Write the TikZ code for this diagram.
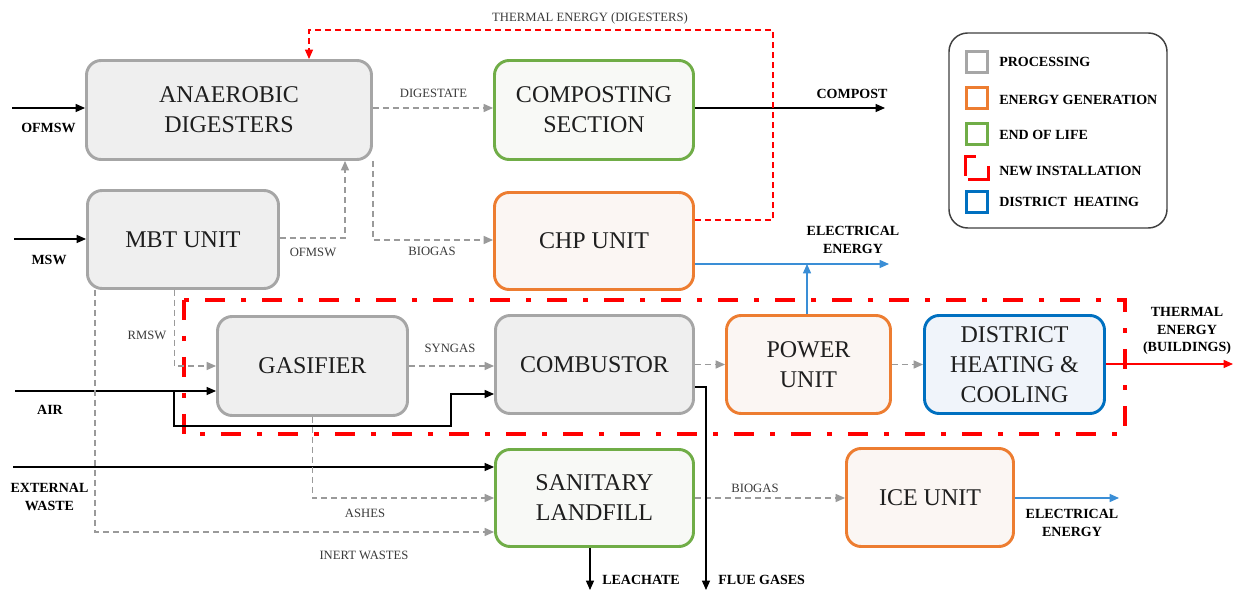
\documentclass[tikz,border=0pt]{standalone}
\usepackage{fontspec}
\setmainfont{Liberation Serif}
\usetikzlibrary{arrows.meta,calc}
\definecolor{gbord}{HTML}{A6A6A6}
\definecolor{gfill}{HTML}{EFEFEF}
\definecolor{obord}{HTML}{ED7D31}
\definecolor{ofill}{HTML}{FBF6F3}
\definecolor{lbord}{HTML}{70AD47}
\definecolor{lfill}{HTML}{F8F9F6}
\definecolor{bbord}{HTML}{0070C0}
\definecolor{bfill}{HTML}{F0F4FA}
\definecolor{elec}{HTML}{3A8ED6}
\definecolor{dgray}{HTML}{9A9A9A}
\definecolor{lbl}{HTML}{3A3A3A}
\definecolor{txt}{HTML}{1E1E1E}
\begin{document}
\begin{tikzpicture}[x=0.75pt,y=-0.75pt,
  box/.style={draw, rounded corners=11pt, line width=2.2pt, align=center,
    font=\fontsize{18}{22.5}\selectfont, text=txt, inner sep=0pt},
  proc/.style={box, draw=gbord, fill=gfill},
  egen/.style={box, draw=obord, fill=ofill},
  eol/.style={box, draw=lbord, fill=lfill},
  dhc/.style={box, draw=bbord, fill=bfill},
  tip/.style={-{Triangle[length=7pt,width=6pt]}},
  flow/.style={tip, draw=black, line width=0.9pt},
  dflow/.style={tip, draw=dgray, line width=1pt, dash pattern=on 4.5pt off 3pt},
  eflow/.style={tip, draw=elec, line width=1pt},
  rflow/.style={tip, draw=red, line width=1pt},
  lab/.style={font=\fontsize{9.5}{12}\selectfont, text=lbl, inner sep=0pt},
  blab/.style={font=\bfseries\fontsize{10.5}{13}\selectfont, text=black, align=center, inner sep=0pt},
  legsq/.style={draw, line width=2.2pt, fill=white, minimum width=15.5pt, minimum height=15.5pt, inner sep=0pt},
  leglab/.style={font=\bfseries\fontsize{10.5}{13}\selectfont, anchor=west, inner sep=0pt}
]
\useasboundingbox (0,0) rectangle (1236,591);
\fill[white] (0,0) rectangle (1236,591);

% new installation frame
\draw[red, line width=3pt, dash pattern=on 15pt off 12pt on 3.75pt off 12pt] (184,300) rectangle (1125,434);

% boxes
\node[proc, minimum width=213.75pt, minimum height=74.25pt] (ad) at (229,110) {ANAEROBIC\\DIGESTERS};
\node[proc, minimum width=143.25pt, minimum height=73.5pt] (mbt) at (183,239.5) {MBT UNIT};
\node[eol, minimum width=149.25pt, minimum height=74.25pt] (comp) at (594,110) {COMPOSTING\\SECTION};
\node[egen, minimum width=149.25pt, minimum height=72.75pt] (chp) at (594,241) {CHP UNIT};
\node[proc, minimum width=142.5pt, minimum height=74.25pt] (gas) at (312.5,366) {GASIFIER};
\node[proc, minimum width=148.5pt, minimum height=73.5pt] (comb) at (594.5,364.5) {COMBUSTOR};
\node[egen, minimum width=123pt, minimum height=73.5pt] (pow) at (808.5,364.5) {POWER\\UNIT};
\node[dhc, minimum width=135pt, minimum height=73.5pt] (dh) at (1014.5,364.5) {DISTRICT\\HEATING \&\\COOLING};
\node[eol, minimum width=148.5pt, minimum height=72.75pt] (lf) at (594.5,498) {SANITARY\\LANDFILL};
\node[egen, minimum width=125.25pt, minimum height=73.5pt] (ice) at (930,497.5) {ICE UNIT};

% free ends
\coordinate (ofin) at (12,108);
\coordinate (mswin) at (14,239);
\coordinate (airin) at (15,391);
\coordinate (airbr) at (174,391);
\coordinate (extin) at (13,467);
\coordinate (compout) at (885,108);
\coordinate (chpel) at (889,264);
\coordinate (thbout) at (1233,364);
\coordinate (iceel) at (1119,498);
\coordinate (leach) at (590,590);
\coordinate (flue) at (706,590);
\coordinate (thtop) at (773,30);

% inputs
\draw[flow] (ofin) -- (ofin -| ad.west);
\draw[flow] (mswin) -- (mswin -| mbt.west);
\draw[flow] (airin) -- ($(gas.west)+(0,25)$);
\draw[line width=0.9pt, tip] (airbr) -- (174,426) -- (451,426) -- (451,394) -- ($(comb.west)+(0,29.5)$);
\draw[flow] (extin) -- (extin -| lf.west);

% dashed process flows
\draw[dflow] ($(ad.east)+(0,-2)$) -- ($(comp.west)+(0,-2)$);
\draw[dflow] ($(mbt.east)+(0,-1.5)$) -| ($(ad.south)+(116,0)$);
\draw[dflow] ($(ad.south east)+(0,0)$) |- ($(chp.west)+(0,-1)$);
\draw[dflow] ($(mbt.south)+(-8.5,0)$) |- (gas.west);
\draw[dflow] ($(mbt.south west)+(9,0)$) |- ($(lf.west)+(0,34)$);
\draw[dflow] (gas.south) |- (lf.west);
\draw[dflow] (gas.east) -- ($(comb.west)+(0,1.5)$);
\draw[dflow] (comb.east) -- (pow.west);
\draw[dflow] (pow.east) -- (dh.west);
\draw[dflow] (lf.east) -- ($(ice.west)+(0,0.5)$);

% outputs
\draw[flow] ($(comp.east)+(0,-2)$) -- (compout);
\draw[eflow] ($(chp.east)+(0,23)$) -- (chpel);
\draw[eflow] (pow.north -| 807,0) -- (807,264);
\draw[rflow] ($(dh.east)+(0,-0.5)$) -- (thbout);
\draw[eflow] ($(ice.east)+(0,0.5)$) -- (iceel);
\draw[flow] ($(lf.south)+(-4.5,0)$) -- (leach);
\draw[flow] ($(comb.east)+(0,22.5)$) -| (flue);
\draw[red, line width=0.9pt, dash pattern=on 4.5pt off 3pt, -{Triangle[length=7pt,width=6pt]}]
  ($(chp.east)+(0,-21)$) -| (thtop) -| ($(ad.north)+(80,0)$);

% labels
\node[blab] (l1) at (48.5,128) {OFMSW};
\node[blab] (l2) at (49,260) {MSW};
\node[blab] (l3) at (50,410) {AIR};
\node[blab] (l4) at (49.5,497) {EXTERNAL\\WASTE};
\node[blab] (l5) at (852,94) {COMPOST};
\node[blab] (l6) at (853,240) {ELECTRICAL\\ENERGY};
\node[blab] (l7) at (1187,331) {THERMAL\\ENERGY\\(BUILDINGS)};
\node[blab] (l8) at (1072,523) {ELECTRICAL\\ENERGY};
\node[blab, anchor=west] (l9) at (602,580) {LEACHATE};
\node[blab, anchor=west] (l10) at (718,580) {FLUE GASES};
\node[lab] (m1) at (433.5,93) {DIGESTATE};
\node[lab] (m2) at (432,251) {BIOGAS};
\node[lab] (m3) at (313,252) {OFMSW};
\node[lab] (m4) at (590,18) {THERMAL ENERGY (DIGESTERS)};
\node[lab] (m5) at (147,335) {RMSW};
\node[lab] (m6) at (450,348) {SYNGAS};
\node[lab] (m7) at (365,513) {ASHES};
\node[lab] (m8) at (364,555) {INERT WASTES};
\node[lab] (m9) at (755,488) {BIOGAS};

% legend
\draw[line width=1.1pt, draw=black!75, rounded corners=14pt] (949,33) rectangle (1167,228);
\node[legsq, draw=gbord] (s1) at (977,62) {};
\node[legsq, draw=obord] (s2) at (977,98) {};
\node[legsq, draw=lbord] (s3) at (977,134) {};
\node[legsq, draw=none] (s4) at (977,168) {};
\draw[red, line width=2.2pt] ($(s4.south west)+(0,-4)$) -- (s4.north west) -- ($(s4.north)+(-1,0)$);
\draw[red, line width=2.2pt] ($(s4.east)+(0,-2)$) -- (s4.south east) -- ($(s4.south west)+(3,0)$);
\node[legsq, draw=bbord] (s5) at (977,202) {};
\node[leglab] (t1) at (999,62) {PROCESSING};
\node[leglab] (t2) at (999,100) {ENERGY GENERATION};
\node[leglab] (t3) at (999,135) {END OF LIFE};
\node[leglab] (t4) at (999,171) {NEW INSTALLATION};
\node[leglab] (t5) at (999,202) {DISTRICT\ \ HEATING};
\end{tikzpicture}
\end{document}
